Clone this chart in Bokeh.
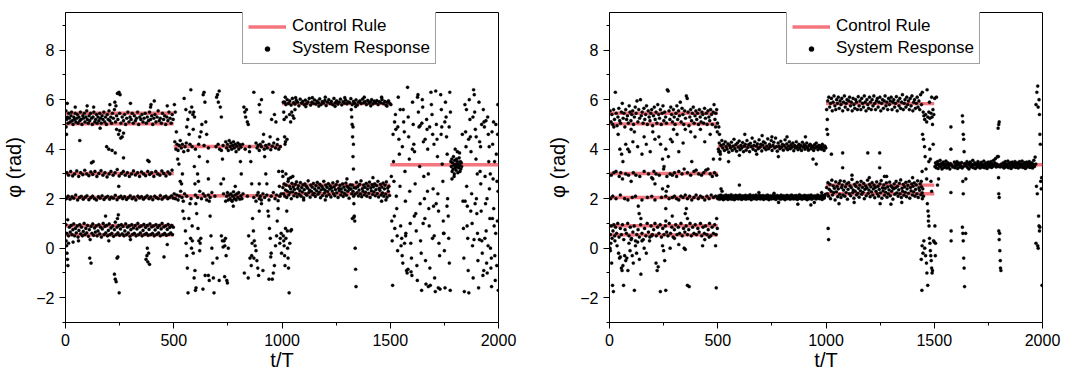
from bokeh.plotting import figure
from bokeh.layouts import row
from bokeh.models import FixedTicker, Legend, LegendItem, Range1d, ColumnDataSource
from bokeh.embed import file_html
from bokeh.resources import INLINE

# ---------------- data ----------------
time_ticks = [0, 500, 1000, 1500, 2000]
time_minor = [250, 750, 1250, 1750]
phi_ticks = [-2, 0, 2, 4, 6, 8]
phi_minor = [-3, -1, 1, 3, 5, 7, 9]

# control rule segments (start t, end t, phi)
left_rule_t0 = [0, 0, 0, 0, 0, 0, 500, 500, 1000, 1000, 1000, 1500]
left_rule_t1 = [500, 500, 500, 500, 500, 500, 1000, 1000, 1500, 1500, 1500, 2000]
left_rule_phi = [5.45, 5.02, 3.02, 2.05, 0.91, 0.54, 4.11, 2.12, 5.84, 2.55, 2.2, 3.37]
right_rule_t0 = [0, 0, 0, 0, 0, 0, 500, 500, 1000, 1000, 1000, 1500]
right_rule_t1 = [500, 500, 500, 500, 500, 500, 1000, 1000, 1500, 1500, 1500, 2000]
right_rule_phi = [5.45, 5.02, 3.02, 2.05, 0.91, 0.54, 4.11, 2.05, 5.84, 2.55, 2.2, 3.37]

# ---- left panel: system response (t, phi) ----
left_0_500 = [(2,5.55),(5,5.2),(9,5.3),(12,5.05),(15,5.45),(18,5.25),(22,5.1),(25,5.35),(28,5.5),(31,5.15),(35,5.0),(38,5.3),(41,5.2),(45,5.45),(48,5.1),(52,5.25),(55,5.4),(58,5.05),(62,5.3),(66,5.15),(69,5.5),(72,5.2),(76,5.0),(80,5.35),(83,5.25),(87,5.45),(90,5.1),(94,5.3),(98,5.55),(101,5.2),(105,5.05),(109,5.35),(112,5.15),(116,5.45),(120,5.25),(124,5.0),(127,5.3),(131,5.5),(135,5.1),(139,5.2),(143,5.4),(146,5.05),(150,5.3),(154,5.15),(158,5.45),(162,5.25),(165,5.05),(169,5.35),(173,5.2),(177,5.5),(181,5.1),(185,5.3),(189,5.0),(193,5.4),(197,5.2),(201,5.55),(205,5.15),(209,5.3),(213,5.05),(217,5.45),(221,5.25),(226,5.6),(231,5.1),(236,5.35),(242,5.2),(250,5.45),(256,5.05),(262,5.3),(268,5.15),(273,5.4),(278,5.0),(283,5.25),(288,5.5),(293,5.1),(298,5.3),(303,5.2),(308,5.45),(313,5.05),(318,5.35),(323,5.15),(328,5.25),(333,5.5),(338,5.0),(343,5.3),(348,5.2),(353,5.4),(358,5.1),(363,5.25),(368,5.45),(373,5.05),(378,5.3),(383,5.15),(388,5.5),(393,5.2),(398,5.35),(403,5.0),(408,5.25),(413,5.4),(418,5.1),(423,5.3),(428,5.55),(433,5.15),(438,5.25),(443,5.05),(448,5.45),(453,5.2),(458,5.35),(463,5.0),(468,5.3),(473,5.15),(478,5.5),(483,5.25),(488,5.05),(493,5.4),(497,5.2),
(100,5.75),(130,5.7),(205,5.8),(228,5.9),(240,6.25),(247,6.3),(252,6.2),(233,5.75),(300,5.85),(393,5.7),(410,5.95),(395,5.8),(470,5.75),(45,5.7),(8,5.85),(160,4.85),(245,4.6),(250,4.75),(255,4.45),(262,4.5),(236,4.8),(268,4.65),(66,4.35),(190,4.1),(200,4.0),(215,3.95),(230,3.85),(268,3.65),(380,3.55),(386,3.5),(120,3.45),(128,3.5),(246,2.5),(3,4.9),(5,4.6),
(6,3.05),(14,2.95),(24,3.1),(33,2.92),(42,3.0),(52,3.12),(61,2.9),(70,3.05),(80,2.97),(89,3.15),(98,3.0),(108,2.93),(117,3.08),(126,2.98),(136,3.1),(145,2.9),(154,3.02),(164,3.13),(173,2.95),(182,3.05),(192,2.88),(201,3.0),(210,3.1),(220,2.95),(229,3.05),(239,3.18),(248,2.92),(258,3.02),(267,3.1),(276,2.95),(286,3.05),(295,2.9),(305,3.0),(314,3.12),(323,2.96),(333,3.05),(342,2.9),(351,3.08),(361,3.0),(370,2.93),(380,3.1),(389,2.98),(398,3.05),(408,2.9),(417,3.1),(426,3.0),(436,2.95),(445,3.12),(454,3.02),(464,2.92),(473,3.08),(482,3.0),(492,3.15),
(4,2.0),(12,2.1),(21,1.98),(30,2.08),(38,2.02),(47,2.15),(56,1.95),(65,2.05),(73,2.1),(82,1.98),(91,2.06),(99,2.12),(108,1.96),(117,2.04),(125,2.1),(134,2.0),(143,1.95),(152,2.08),(160,2.02),(169,2.12),(178,1.97),(186,2.05),(195,2.1),(204,1.98),(212,2.06),(221,2.02),(230,2.14),(238,1.96),(247,2.05),(256,2.1),(264,2.0),(273,2.08),(282,1.97),(290,2.04),(299,2.12),(308,2.0),(316,2.06),(325,1.95),(334,2.1),(342,2.03),(351,2.08),(360,1.98),(368,2.05),(377,2.12),(386,2.0),(394,2.07),(403,1.96),(412,2.1),(420,2.04),(429,2.0),(438,2.13),(446,1.98),(455,2.06),(464,2.1),(472,2.0),(481,2.05),(490,2.12),(498,2.02),
(2,0.95),(6,0.6),(10,1.15),(14,0.5),(18,0.85),(22,0.65),(26,0.92),(30,0.55),(34,0.75),(38,0.98),(42,0.5),(46,0.8),(50,0.62),(54,0.9),(58,0.45),(62,0.72),(66,0.95),(70,0.58),(74,0.85),(78,0.5),(82,0.68),(86,1.0),(90,0.55),(94,0.8),(98,0.62),(102,0.92),(106,0.48),(110,0.75),(114,0.35),(118,0.88),(122,0.6),(126,0.98),(130,0.52),(134,0.82),(138,0.65),(142,0.9),(146,0.5),(150,0.7),(154,0.95),(158,0.58),(162,0.85),(166,0.45),(170,0.78),(174,1.0),(178,0.55),(182,0.88),(186,0.62),(190,0.92),(194,0.5),(198,0.72),(202,0.98),(206,0.55),(210,0.82),(214,0.6),(218,0.9),(222,0.48),(226,0.75),(230,1.05),(234,0.55),(238,0.85),(242,0.62),(246,0.92),(250,0.52),(254,0.78),(258,0.95),(262,0.58),(266,0.88),(270,0.5),(274,0.7),(278,0.98),(282,0.55),(286,0.85),(290,0.62),(294,0.9),(298,0.48),(302,0.75),(306,0.95),(310,0.56),(314,0.82),(318,0.6),(322,0.92),(326,0.5),(330,0.78),(334,1.0),(338,0.55),(342,0.86),(346,0.62),(350,0.9),(354,0.5),(358,0.72),(362,0.96),(366,0.56),(370,0.84),(374,0.6),(378,0.92),(382,0.52),(386,0.76),(390,0.98),(394,0.55),(398,0.86),(402,0.6),(406,0.9),(410,0.5),(414,0.74),(418,0.95),(422,0.56),(426,0.84),(430,0.62),(434,0.92),(438,0.5),(442,0.78),(446,1.0),(450,0.55),(454,0.86),(458,0.6),(462,0.9),(466,0.52),(470,0.76),(474,0.96),(478,0.56),(482,0.84),(486,0.62),(490,0.92),(494,0.55),(498,0.85),
(3,0.3),(5,0.1),(7,-0.2),(9,-0.45),(11,-0.7),(14,0.2),(112,-0.4),(118,-0.6),(226,-1.05),(230,-1.25),(234,-1.35),(238,-0.4),(242,-0.35),(248,-1.8),(240,1.2),(244,1.35),(372,-0.45),(376,-0.3),(380,-0.55),(384,-0.2),(388,-0.65),(378,0.0),(455,-0.35),(470,0.15),(35,0.25),(60,0.3),(200,0.3),(300,0.35),(185,1.3)]

left_500_1000 = [(505,4.3),(510,4.0),(515,4.2),(520,3.95),(525,4.15),(530,4.35),(535,4.05),(540,4.2),(546,3.9),(552,4.1),(558,4.25),(566,3.95),(575,4.2),(585,4.1),(600,4.0),(615,4.2),(640,4.15),(660,4.05),(695,4.1),(705,4.2),(712,4.0),(720,3.95),(728,4.15),(740,4.3),(744,4.05),(748,4.2),(752,3.95),(756,4.35),(760,4.1),(764,4.25),(768,4.0),(772,4.15),(776,4.3),(780,4.05),(784,4.2),(788,3.9),(792,4.12),(796,4.25),(800,4.0),(805,4.18),(810,4.08),(818,4.2),(830,4.0),(850,4.1),(880,4.25),(885,4.05),(890,4.15),(895,3.95),(900,4.2),(905,4.1),(912,4.3),(918,4.0),(925,4.15),(932,4.05),(940,4.2),(948,3.98),(955,4.12),(962,4.25),(970,4.05),(978,4.18),(985,4.0),(992,4.1),
(502,2.2),(508,2.0),(514,2.15),(520,1.95),(526,2.1),(532,2.3),(538,2.05),(544,1.9),(550,2.2),(560,2.1),(580,2.0),(600,2.15),(610,2.05),(620,2.3),(628,2.0),(636,2.2),(644,2.1),(652,1.95),(660,2.15),(668,2.05),(676,2.25),(690,2.1),(730,2.2),(740,1.9),(744,2.1),(748,2.25),(752,1.95),(756,2.15),(760,2.0),(764,2.2),(768,1.92),(772,2.1),(776,2.28),(780,2.0),(784,2.15),(788,1.95),(792,2.2),(796,2.05),(800,2.25),(805,1.98),(810,2.12),(815,2.0),(820,2.2),(840,2.1),(870,2.05),(880,1.9),(885,2.15),(890,2.25),(895,2.0),(900,2.1),(905,1.95),(912,2.2),(920,2.05),(930,2.15),(940,1.95),(950,2.1),(960,2.25),(968,2.0),(975,2.15),(982,1.92),(990,2.1),(996,2.2),
(503,5.8),(507,5.5),(512,4.7),(518,3.6),(524,3.4),(530,2.7),(536,2.6),(542,1.5),(548,1.2),(554,0.7),(557,0.2),(560,-0.3),(563,-0.8),(566,-1.8),(548,6.05),(556,5.6),(560,4.9),(565,5.2),(571,4.6),(575,5.5),(579,6.4),(583,5.7),(588,5.4),(592,5.5),(596,5.3),(590,4.8),(595,3.3),(598,2.6),(602,1.8),(606,1.4),(585,0.9),(578,0.4),(582,0.0),(586,0.3),(590,-0.2),(594,-1.2),(598,-0.9),(603,-1.6),(610,3.0),(614,2.7),(618,3.7),(620,4.5),(626,4.7),(630,5.0),(636,6.2),(640,6.3),(644,5.9),(648,5.1),(652,4.6),(656,3.5),(660,2.8),(664,1.9),(668,1.3),(672,0.5),(676,0.0),(680,-0.6),(683,-1.2),(686,-1.8),(660,-1.1),(664,-1.3),(698,6.1),(702,6.2),(706,5.9),(710,6.35),(715,5.7),(720,5.3),(725,3.6),(730,2.8),(733,0.3),(736,0.1),(739,0.4),(742,-0.3),(745,-1.3),(748,-1.4),(752,0.0),(718,2.6),(824,5.7),(828,5.5),(832,5.3),(836,5.6),(840,5.1),(844,5.0),(850,3.9),(856,3.5),(860,2.6),(864,1.2),(868,0.7),(872,0.3),(876,0.1),(880,-0.1),(884,-0.5),(888,-0.8),(892,-1.1),(846,0.5),(852,-0.4),(858,-0.7),(862,0.2),(870,6.3),(895,5.8),(900,5.5),(905,6.0),(915,4.6),(920,3.7),(925,3.0),(930,2.6),(935,1.5),(938,1.3),(942,0.8),(946,0.4),(950,-0.2),(955,-1.25),(960,-1.0),(965,-0.7),(970,0.1),(975,0.5),(978,1.1),(982,1.6),(958,6.3),(952,5.2),(945,4.5),(965,5.4),(972,5.1),(980,4.4),(985,3.1),(988,2.5),(992,0.4),(996,0.6),(990,0.2),(998,-0.2),(600,-1.7),(635,-1.65),(645,-1.1),(700,-0.4),(710,-1.3),(735,-1.15),(770,1.9),(812,3.0),(826,-1.0),(844,-1.2),(860,-0.3),(870,-0.4),(905,1.8),(895,1.5),(912,-0.9),(940,-1.25),(948,-0.35),(775,1.7),(570,1.2),(575,1.8),(612,0.8),(616,0.3),(622,0.2),(620,-0.1),(625,0.4),(720,0.5),(725,0.3),(728,0.05),(784,2.5),(808,3.5),(895,2.6),(540,3.0)]

left_1000_1500 = [(1012,5.9),(1018,5.8),(1024,6.0),(1030,5.85),(1036,5.95),(1042,5.78),(1048,6.05),(1054,5.88),(1060,5.82),(1066,5.97),(1072,5.9),(1078,5.75),(1084,6.02),(1090,5.86),(1096,5.93),(1102,5.8),(1108,5.98),(1114,5.84),(1120,5.91),(1126,6.05),(1132,5.78),(1138,5.9),(1144,5.85),(1150,5.99),(1156,5.82),(1162,5.94),(1168,5.88),(1174,6.03),(1180,5.8),(1186,5.92),(1192,5.86),(1198,5.97),(1204,5.76),(1210,5.9),(1216,6.0),(1222,5.84),(1228,5.93),(1234,5.8),(1240,6.05),(1246,5.87),(1252,5.95),(1258,5.82),(1264,5.9),(1270,6.02),(1276,5.79),(1282,5.92),(1288,5.86),(1294,5.98),(1300,5.83),(1306,5.91),(1312,5.88),(1318,6.04),(1324,5.8),(1330,5.93),(1336,5.85),(1342,5.99),(1348,5.78),(1354,5.9),(1360,5.95),(1366,5.84),(1372,6.02),(1378,5.88),(1384,5.92),(1390,5.8),(1396,5.97),(1402,5.86),(1408,5.91),(1414,6.0),(1420,5.83),(1426,5.94),(1432,5.87),(1438,5.96),(1444,5.8),(1450,5.92),(1456,5.88),(1462,6.01),(1468,5.84),(1474,5.93),(1480,5.78),(1486,5.9),(1492,5.95),(1498,5.85),(1015,6.1),(1063,6.08),(1110,5.72),(1170,5.74),(1245,5.73),(1290,6.08),(1340,5.72),(1410,5.75),(1460,6.1),(1485,5.74),(1140,6.08),(1200,6.1),(1380,6.1),
(1004,2.45),(1007,2.2),(1010,2.6),(1013,2.1),(1016,2.35),(1019,2.55),(1022,2.05),(1025,2.3),(1028,2.7),(1031,2.15),(1034,2.5),(1037,2.25),(1040,2.4),(1043,2.0),(1046,2.62),(1049,2.28),(1052,2.48),(1055,2.12),(1058,2.38),(1061,2.58),(1064,2.22),(1067,2.68),(1070,2.08),(1073,2.42),(1076,2.52),(1079,2.18),(1082,2.33),(1085,2.65),(1088,2.1),(1091,2.45),(1094,2.27),(1097,2.56),(1100,2.03),(1103,2.37),(1106,2.6),(1109,2.2),(1112,2.5),(1115,2.14),(1118,2.43),(1121,2.72),(1124,2.25),(1127,2.35),(1130,2.06),(1133,2.55),(1136,2.3),(1139,2.47),(1142,2.16),(1145,2.62),(1148,2.22),(1151,2.4),(1154,2.09),(1157,2.53),(1160,2.32),(1163,2.66),(1166,2.18),(1169,2.44),(1172,2.26),(1175,2.58),(1178,2.04),(1181,2.36),(1184,2.5),(1187,2.13),(1190,2.41),(1193,2.7),(1196,2.23),(1199,2.34),(1202,2.55),(1205,2.1),(1208,2.46),(1211,2.29),(1214,2.61),(1217,2.17),(1220,2.39),(1223,2.52),(1226,2.07),(1229,2.44),(1232,2.31),(1235,2.64),(1238,2.2),(1241,2.48),(1244,2.12),(1247,2.37),(1250,2.57),(1253,2.24),(1256,2.69),(1259,2.05),(1262,2.42),(1265,2.33),(1268,2.54),(1271,2.15),(1274,2.4),(1277,2.27),(1280,2.6),(1283,2.09),(1286,2.47),(1289,2.21),(1292,2.36),(1295,2.63),(1298,2.14),(1301,2.5),(1304,2.3),(1307,2.45),(1310,2.02),(1313,2.38),(1316,2.56),(1319,2.4),(1322,2.2),(1325,2.55),(1328,2.3),(1331,2.1),(1334,2.45),(1338,2.19),(1341,2.43),(1344,2.66),(1347,2.25),(1350,2.49),(1353,2.11),(1356,2.35),(1359,2.58),(1362,2.2),(1365,2.72),(1368,2.08),(1371,2.41),(1374,2.3),(1377,2.55),(1380,2.16),(1383,2.46),(1386,2.26),(1389,2.62),(1392,2.1),(1395,2.39),(1398,2.52),(1401,2.22),(1404,2.67),(1407,2.05),(1410,2.44),(1413,2.32),(1416,2.57),(1419,2.17),(1422,2.48),(1425,2.28),(1428,2.6),(1431,2.12),(1434,2.37),(1437,2.53),(1440,2.21),(1443,2.7),(1446,2.07),(1449,2.42),(1452,2.34),(1455,2.58),(1458,2.15),(1461,2.47),(1464,2.24),(1467,2.63),(1470,2.1),(1473,2.4),(1476,2.55),(1479,2.19),(1482,2.68),(1485,2.06),(1488,2.43),(1491,2.3),(1494,2.5),(1497,2.13),
(1040,2.85),(1050,2.9),(1030,2.8),(1100,1.95),(1200,1.95),(1300,2.8),(1420,2.85),(1480,1.95),(1460,1.9),
(1002,3.1),(1004,2.9),(1006,5.9),(1008,5.5),(1010,5.2),(1012,4.5),(1014,4.2),(1016,4.3),(1018,3.0),(1020,5.3),(1023,4.4),(1006,0.5),(1008,0.3),(1010,0.1),(1012,-0.3),(1014,-0.7),(1016,0.8),(1018,0.4),(1022,1.5),(1025,0.7),(1028,-0.4),(1030,-0.8),(1033,-1.8),(1036,0.2),(1040,0.7),(1044,0.75),(1026,0.0),(1035,5.4),(1040,5.1),(1045,5.5),(1050,5.35),(1055,5.25),(1060,5.6),(1320,5.6),(1322,5.3),(1324,5.0),(1326,4.5),(1328,3.7),(1330,3.2),(1332,1.8),(1334,1.3),(1336,1.1),(1338,0.0),(1340,-0.85),(1342,-1.55),(1325,1.2),(1332,1.25),(1328,4.9),(1330,4.2)]

left_1500_2000 = [(1503,5.8),(1505,2.9),(1507,1.1),(1509,0.3),(1511,-1.5),(1513,4.6),(1515,3.5),(1517,2.7),(1519,1.3),(1521,0.8),(1524,5.4),(1526,4.8),(1528,2.1),(1530,1.6),(1532,0.5),(1534,-0.1),(1537,6.1),(1540,4.4),(1542,3.8),(1545,2.5),(1548,0.9),(1550,0.1),(1553,0.4),(1555,-0.3),(1558,-0.6),(1560,5.6),(1562,5.1),(1565,4.7),(1568,3.1),(1570,1.9),(1572,0.6),(1575,-0.9),(1578,-1.0),(1580,6.5),(1583,5.3),(1585,4.5),(1588,3.6),(1590,2.3),(1592,1.0),(1595,0.2),(1598,-0.4),(1600,-1.1),(1603,5.9),(1606,5.0),(1609,4.2),(1612,3.9),(1615,2.6),(1618,1.4),(1620,0.7),(1623,-0.7),(1625,-1.3),(1628,6.2),(1630,5.5),(1633,4.9),(1636,3.3),(1638,1.8),(1640,0.3),(1643,-0.2),(1645,-1.7),(1648,6.0),(1650,5.7),(1653,4.3),(1655,2.9),(1658,2.0),(1660,1.2),(1663,-0.5),(1665,-1.45),(1668,5.2),(1670,4.8),(1673,4.0),(1676,3.0),(1678,1.6),(1680,0.9),(1683,-0.8),(1685,-1.5),(1688,6.3),(1690,5.8),(1693,5.4),(1696,4.6),(1698,2.4),(1700,1.7),(1703,0.5),(1705,-1.2),(1708,-1.75),(1710,6.35),(1713,5.0),(1716,4.4),(1718,3.7),(1720,2.2),(1723,1.5),(1725,0.2),(1728,-0.3),(1730,-1.65),(1733,6.2),(1736,5.6),(1738,4.9),(1740,3.4),(1743,2.7),(1745,1.1),(1748,0.6),(1750,-0.1),(1753,-1.6),(1755,5.9),(1758,5.3),(1760,4.5),(1763,3.8),(1765,2.0),(1768,1.3),(1770,0.4),(1773,-0.6),(1775,6.3),(1778,5.5),
(1780,3.5),(1782,3.3),(1784,3.6),(1786,3.1),(1788,3.45),(1790,3.2),(1792,3.7),(1794,3.35),(1796,3.0),(1798,3.55),(1800,3.25),(1802,3.4),(1804,3.15),(1806,3.6),(1808,3.3),(1810,3.5),(1812,3.05),(1814,3.4),(1816,3.25),(1818,3.65),(1820,3.35),(1822,3.1),(1824,3.5),(1826,3.2),(1828,3.45),(1830,3.3),(1785,2.8),(1795,2.9),(1810,3.9),(1820,3.85),(1800,4.0),
(1833,4.6),(1836,1.9),(1838,0.8),(1840,-0.4),(1842,-1.75),(1845,5.8),(1848,4.7),(1850,4.1),(1853,2.5),(1856,1.7),(1858,0.4),(1860,-0.9),(1863,-1.8),(1865,6.0),(1868,5.2),(1870,4.5),(1873,3.9),(1876,2.2),(1878,1.0),(1880,0.1),(1883,-1.2),(1885,6.4),(1888,6.2),(1890,5.5),(1893,4.8),(1896,3.6),(1898,2.0),(1900,1.4),(1903,0.6),(1905,-0.5),(1908,-1.6),(1910,5.9),(1913,4.3),(1915,3.1),(1918,2.6),(1920,1.5),(1923,0.3),(1925,-0.2),(1928,-1.1),(1930,5.6),(1933,5.1),(1935,4.9),(1938,2.9),(1940,1.8),(1943,0.7),(1945,-0.6),(1948,-1.0),(1950,5.3),(1953,4.6),(1955,3.5),(1958,2.4),(1960,1.2),(1963,0.0),(1965,-0.8),(1968,-1.55),(1970,4.7),(1973,4.2),(1975,2.8),(1978,1.6),(1980,0.9),(1983,-0.3),(1985,-1.3),(1988,5.0),(1990,3.8),(1993,2.7),(1995,1.1),(1997,5.8),(1999,-1.7),
(1520,5.1),(1535,4.9),(1546,5.6),(1556,4.1),(1566,0.2),(1571,0.5),(1582,-0.85),(1596,-0.95),(1602,4.0),(1611,1.3),(1626,6.1),(1638,4.95),(1646,5.05),(1652,1.0),(1661,4.4),(1672,2.3),(1676,-1.55),(1682,4.9),(1695,0.4),(1702,4.2),(1712,1.8),(1722,-1.6),(1735,4.6),(1746,0.6),(1752,5.1),(1762,1.7),(1772,4.9),(1777,-1.7),(1846,1.9),(1852,5.6),(1855,0.9),(1862,4.4),(1872,1.5),(1882,5.3),(1887,0.35),(1892,1.8),(1897,4.5),(1902,3.0),(1912,0.35),(1917,4.1),(1922,5.0),(1932,-0.9),(1937,0.4),(1942,5.15),(1947,2.0),(1952,0.1),(1957,4.1),(1962,3.0),(1967,-0.4),(1972,1.2),(1977,5.1),(1982,3.5),(1987,0.6),(1992,-0.7),(1996,4.6),(1998,2.3)]

# ---- right panel: system response (t, phi) ----
right_0_500 = [(3,5.55),(7,5.1),(11,5.4),(15,5.0),(19,5.6),(23,5.2),(27,6.3),(31,5.45),(35,4.95),(39,5.3),(43,5.65),(47,5.15),(51,5.05),(55,5.5),(59,5.85),(63,5.25),(67,5.45),(71,4.9),(75,5.6),(79,5.2),(83,5.35),(87,5.05),(91,5.75),(95,5.5),(99,5.15),(103,5.4),(107,5.55),(111,5.0),(115,5.3),(119,5.7),(123,5.45),(127,5.95),(131,5.1),(135,5.6),(139,5.25),(143,6.0),(147,5.35),(151,5.5),(155,5.05),(159,5.65),(163,5.2),(167,5.4),(171,5.75),(175,5.0),(179,5.55),(183,5.3),(187,5.15),(191,5.45),(195,5.6),(199,4.95),(203,5.35),(207,5.7),(211,5.2),(215,5.5),(219,5.05),(223,5.8),(227,5.4),(231,5.25),(235,5.6),(239,5.0),(243,5.45),(247,5.75),(251,5.15),(255,5.5),(259,5.3),(263,5.05),(267,6.4),(271,6.35),(275,5.55),(279,5.2),(283,5.7),(287,5.4),(291,5.1),(295,5.6),(299,5.3),(303,5.0),(307,5.45),(311,5.75),(315,5.2),(319,5.55),(323,5.35),(327,5.9),(331,5.1),(335,5.65),(339,5.4),(343,5.0),(347,5.55),(351,5.25),(355,6.15),(359,6.05),(363,5.5),(367,4.95),(371,5.3),(375,5.6),(379,5.15),(383,5.45),(387,5.7),(391,5.05),(395,5.35),(399,5.55),(403,5.2),(407,5.45),(411,5.0),(415,5.6),(419,5.3),(423,5.1),(427,5.5),(431,5.4),(435,5.05),(439,5.65),(443,5.25),(447,5.45),(451,5.0),(455,5.55),(459,5.3),(463,5.15),(467,5.6),(471,5.4),(475,5.0),(479,5.5),(483,5.8),(487,5.2),(491,5.45),(495,5.6),(499,5.05),
(20,4.9),(40,4.6),(48,4.0),(56,3.8),(62,3.5),(75,4.2),(85,4.0),(92,3.9),(100,4.8),(108,4.3),(115,4.7),(130,4.1),(150,3.8),(160,4.5),(170,4.2),(188,3.9),(200,4.7),(210,4.4),(228,4.5),(236,4.2),(245,3.6),(252,3.3),(260,4.0),(272,3.7),(282,4.4),(290,4.3),(296,4.8),(312,4.6),(320,3.9),(340,4.25),(350,4.8),(375,4.7),(380,3.5),(395,4.5),(420,4.8),(440,4.3),(465,4.6),(480,3.6),(490,4.9),(498,4.7),(270,2.5),(262,2.3),(210,2.6),(200,2.8),(245,2.4),(260,1.6),(133,1.7),(137,1.4),(145,1.2),(350,1.4),(355,1.6),(360,1.2),(260,1.1),(290,1.3),
(8,2.95),(20,3.05),(30,3.1),(45,2.9),(52,3.05),(60,2.8),(75,3.0),(88,2.95),(100,2.7),(110,3.05),(140,2.9),(180,3.0),(195,2.85),(205,3.1),(215,3.0),(230,2.95),(250,3.2),(265,2.9),(280,3.0),(300,3.05),(310,2.9),(320,3.1),(335,3.0),(345,3.2),(360,3.05),(375,2.95),(390,3.1),(400,3.15),(412,3.0),(425,2.95),(435,3.05),(445,3.15),(455,3.2),(465,3.0),(475,2.9),(485,3.05),(495,2.95),(122,2.95),(160,3.1),(290,2.95),
(5,2.0),(15,2.1),(30,2.0),(50,2.15),(70,2.0),(85,1.95),(105,2.05),(120,2.1),(150,1.95),(175,2.05),(195,2.1),(210,1.95),(240,2.05),(260,2.1),(275,2.0),(290,2.05),(300,2.1),(310,2.0),(320,1.95),(330,2.1),(340,2.05),(350,2.15),(360,2.0),(370,2.1),(380,1.95),(390,2.05),(400,2.15),(410,2.0),(420,2.1),(430,2.05),(440,1.95),(450,2.1),(460,2.0),(470,2.15),(480,2.05),(490,2.1),(500,2.0),
(4,0.55),(8,0.9),(12,0.4),(16,0.7),(20,0.95),(24,0.5),(28,0.85),(33,0.6),(38,1.0),(44,0.45),(50,0.8),(55,0.55),(60,0.95),(66,0.35),(72,0.75),(78,0.6),(84,1.0),(90,0.5),(96,0.85),(102,0.4),(108,0.65),(114,0.9),(120,0.3),(126,0.55),(132,0.75),(138,0.45),(144,0.95),(150,0.6),(156,0.35),(162,0.8),(168,0.5),(174,1.0),(180,0.65),(186,0.45),(192,0.9),(198,0.55),(204,0.75),(210,1.0),(216,0.5),(222,0.85),(228,0.6),(234,0.95),(240,0.45),(246,0.8),(252,0.55),(258,0.9),(264,0.65),(270,0.5),(276,1.0),(282,0.6),(288,0.85),(294,0.45),(300,0.75),(306,0.95),(312,0.55),(318,0.85),(324,0.6),(330,1.0),(336,0.5),(342,0.8),(348,0.65),(354,0.9),(360,0.55),(366,0.75),(372,1.0),(378,0.5),(384,0.85),(390,0.6),(396,0.95),(402,0.55),(408,0.8),(414,0.65),(420,1.0),(426,0.5),(432,0.85),(438,0.6),(444,0.9),(450,0.55),(456,0.75),(462,1.0),(468,0.5),(474,0.85),(480,0.6),(486,0.95),(492,0.55),(498,0.8),
(2,0.0),(4,-0.1),(6,0.2),(10,-0.6),(14,-1.5),(18,-1.75),(25,0.3),(35,0.1),(42,-0.2),(46,-0.4),(50,-0.35),(55,-0.8),(58,-0.9),(62,-0.7),(65,-1.5),(70,-0.3),(75,-0.5),(80,-0.4),(85,-0.9),(90,0.2),(95,-0.1),(100,0.35),(105,-0.3),(110,-0.6),(115,-1.7),(120,0.1),(125,-0.2),(130,0.25),(138,-0.45),(145,-1.05),(150,0.3),(160,0.0),(170,-0.2),(185,0.3),(195,0.5),(215,-0.6),(220,-0.9),(225,-0.75),(235,-1.75),(245,0.1),(250,-0.1),(255,-0.5),(260,-1.7),(280,0.0),(300,0.4),(320,0.15),(345,0.0),(350,-0.05),(360,-1.5),(368,-1.55),(430,0.1),(440,0.35),(460,0.45),(490,0.1),(493,-1.6),(495,1.2)]

right_500_1000 = [(503,4.0),(507,4.25),(511,3.9),(515,4.15),(519,4.35),(523,4.05),(527,4.2),(531,3.95),(535,4.3),(539,4.1),(543,4.0),(547,4.22),(551,3.88),(555,4.15),(559,4.05),(563,4.28),(567,3.95),(571,4.12),(575,4.4),(579,4.02),(583,4.18),(587,3.92),(591,4.25),(595,4.08),(599,4.33),(603,3.98),(607,4.15),(611,4.05),(615,4.27),(619,3.9),(623,4.12),(627,4.2),(631,3.96),(635,4.35),(639,4.07),(643,4.18),(647,3.9),(651,4.24),(655,4.1),(659,4.45),(663,4.0),(667,4.15),(671,4.3),(675,3.94),(679,4.12),(683,4.22),(687,4.02),(691,4.38),(695,4.08),(699,4.2),(703,3.93),(707,4.16),(711,4.3),(715,4.05),(719,4.25),(723,3.98),(727,4.12),(731,4.42),(735,4.02),(739,4.2),(743,4.1),(747,4.35),(751,3.95),(755,4.15),(759,4.28),(763,4.05),(767,4.45),(771,4.1),(775,3.92),(779,4.25),(783,4.12),(787,4.02),(791,4.32),(795,4.08),(799,4.2),(803,3.96),(807,4.15),(811,4.38),(815,4.05),(819,4.22),(823,3.98),(827,4.12),(831,4.3),(835,4.02),(839,4.18),(843,4.08),(847,4.25),(851,3.94),(855,4.15),(859,4.05),(863,4.3),(867,4.1),(871,3.98),(875,4.2),(879,4.05),(883,4.15),(887,3.95),(891,4.28),(895,4.08),(899,4.18),(903,4.0),(907,4.12),(911,4.25),(915,4.05),(919,3.96),(923,4.15),(927,4.2),(931,4.02),(935,4.12),(939,4.08),(943,3.95),(947,4.18),(951,4.05),(955,4.25),(959,4.1),(963,3.98),(967,4.15),(971,4.05),(975,4.12),(979,4.0),(983,4.2),(987,4.08),(991,3.95),(995,4.12),(999,4.05),(625,4.6),(705,4.55),(750,4.5),(820,4.5),(905,4.5),(940,3.6),(955,3.4),(600,3.75),(680,3.8),(780,3.7),
(502,2.05),(505,2.12),(508,1.98),(511,2.08),(514,2.15),(517,2.0),(520,2.1),(523,2.04),(526,1.96),(529,2.12),(532,2.06),(535,2.0),(538,2.15),(541,2.02),(544,2.09),(547,1.97),(550,2.13),(553,2.05),(556,2.0),(559,2.1),(562,2.16),(565,1.98),(568,2.07),(571,2.03),(574,2.12),(577,1.96),(580,2.08),(583,2.14),(586,2.01),(589,2.06),(592,2.11),(595,1.99),(598,2.05),(601,2.15),(604,2.02),(607,2.08),(610,1.97),(613,2.12),(616,2.04),(619,2.1),(622,2.0),(625,2.06),(628,2.14),(631,1.98),(634,2.09),(637,2.03),(640,2.12),(643,2.0),(646,2.07),(649,2.16),(652,2.02),(655,1.96),(658,2.1),(661,2.05),(664,2.13),(667,2.0),(670,2.08),(673,2.03),(676,2.15),(679,1.98),(682,2.06),(685,2.11),(688,2.01),(691,2.07),(694,2.14),(697,1.99),(700,2.05),(703,2.1),(706,2.02),(709,2.13),(712,1.97),(715,2.08),(718,2.04),(721,2.12),(724,2.0),(727,2.06),(730,2.15),(733,2.02),(736,1.96),(739,2.09),(742,2.05),(745,2.12),(748,1.99),(751,2.07),(754,2.03),(757,2.14),(760,2.0),(763,2.08),(766,2.11),(769,1.97),(772,2.06),(775,2.13),(778,2.02),(781,1.85),(784,2.1),(787,2.05),(790,1.98),(793,2.15),(796,2.03),(799,2.09),(802,2.0),(805,2.12),(808,2.06),(811,1.96),(814,2.1),(817,2.04),(820,2.14),(823,2.0),(826,2.08),(829,2.02),(832,2.12),(835,1.98),(838,2.06),(841,2.15),(844,2.03),(847,2.09),(850,1.99),(853,2.11),(856,2.05),(859,2.0),(862,2.13),(865,2.07),(868,1.97),(871,2.1),(874,2.04),(877,2.16),(880,2.01),(883,2.08),(886,2.12),(889,1.98),(892,2.06),(895,2.1),(898,2.02),(901,2.14),(904,2.0),(907,2.07),(910,2.11),(913,1.96),(916,2.05),(919,2.13),(922,2.0),(925,2.08),(928,2.03),(931,2.15),(934,1.98),(937,2.06),(940,2.1),(943,2.02),(946,1.85),(949,2.12),(952,2.05),(955,1.99),(958,2.09),(961,2.15),(964,2.03),(967,2.07),(970,2.0),(973,2.12),(976,2.05),(979,2.1),(982,1.97),(985,2.14),(988,2.06),(991,2.02),(994,2.1),(997,2.18),(690,2.25),(760,2.22),(870,1.78),(930,1.75),(980,2.25),
(505,4.9),(508,4.6),(512,3.8),(515,2.4),(520,2.3),(550,3.5),(600,2.55),(505,3.9),(510,3.6)]

right_1000_1500 = [(1003,5.6),(1008,5.95),(1013,6.1),(1017,5.7),(1021,5.85),(1025,6.05),(1029,5.55),(1033,5.9),(1037,6.15),(1041,5.75),(1045,5.6),(1049,6.0),(1053,5.85),(1057,6.1),(1061,5.65),(1065,5.95),(1069,5.8),(1073,6.05),(1077,5.55),(1081,5.9),(1085,6.15),(1089,5.7),(1093,5.85),(1097,6.0),(1101,5.6),(1105,5.95),(1109,6.1),(1113,5.75),(1117,5.9),(1121,5.55),(1125,6.05),(1129,5.8),(1133,5.65),(1137,6.0),(1141,5.9),(1145,5.6),(1149,6.12),(1153,5.75),(1157,5.95),(1161,5.6),(1165,6.05),(1169,5.85),(1173,5.7),(1177,6.15),(1181,5.9),(1185,5.55),(1189,6.0),(1193,5.8),(1197,5.65),(1201,6.1),(1205,5.9),(1209,5.6),(1213,6.0),(1217,5.75),(1221,6.15),(1225,5.85),(1229,5.6),(1233,5.95),(1237,6.05),(1241,5.7),(1245,5.9),(1249,6.1),(1253,5.55),(1257,5.85),(1261,6.0),(1265,5.65),(1269,5.95),(1273,6.15),(1277,5.75),(1281,5.9),(1285,5.6),(1289,6.05),(1293,5.8),(1297,5.95),(1301,6.1),(1305,5.6),(1309,5.9),(1313,6.0),(1317,5.7),(1321,5.85),(1325,6.12),(1329,5.55),(1333,5.95),(1337,5.75),(1341,6.05),(1345,5.65),(1349,5.9),(1353,6.2),(1357,5.6),(1361,5.85),(1365,6.0),(1369,5.7),(1373,6.1),(1377,5.8),(1381,5.95),(1385,5.6),(1389,6.05),(1393,5.75),(1397,6.15),(1401,5.55),(1405,5.9),(1409,6.0),(1413,5.65),(1417,5.85),(1421,6.1),(1425,5.7),(1429,5.95),(1433,5.6),(1437,6.2),(1441,5.8),(1445,6.3),(1449,5.5),
(1452,5.35),(1456,5.2),(1460,5.4),(1465,5.1),(1470,5.3),(1475,5.5),(1480,5.25),(1485,5.45),(1490,5.3),(1494,5.6),(1498,5.4),(1502,6.05),(1467,6.4),(1478,5.9),(1488,6.1),(1492,5.0),(1446,4.6),(1450,4.4),(1455,4.1),(1458,3.7),(1462,3.2),(1465,2.8),(1468,1.8),(1471,1.5),(1474,1.3),(1476,0.9),(1478,0.4),(1480,0.2),(1482,-0.1),(1484,-0.3),(1486,-0.5),(1488,-0.8),(1490,-1.0),(1492,-0.9),(1470,-1.5),(1440,-0.45),(1444,0.1),(1448,-0.2),(1452,0.3),(1456,0.0),(1460,-0.3),(1464,-0.6),(1466,-1.0),(1443,-1.7),(1497,0.3),(1500,0.25),(1503,0.9),(1506,0.2),(1505,-0.3),(1475,3.5),(1479,4.0),(1482,3.6),(1485,2.7),(1488,2.3),(1495,4.2),(1473,1.1),(1445,2.0),(1440,2.7),(1444,3.1),
(1003,2.45),(1006,2.2),(1009,2.65),(1012,2.1),(1015,2.38),(1018,2.58),(1021,2.0),(1024,2.3),(1027,2.75),(1030,2.15),(1033,2.52),(1036,2.25),(1039,2.42),(1042,1.95),(1045,2.68),(1048,2.28),(1051,2.5),(1054,2.08),(1057,2.4),(1060,2.62),(1063,2.18),(1066,2.72),(1069,2.05),(1072,2.45),(1075,2.55),(1078,2.15),(1081,2.35),(1084,2.7),(1087,2.1),(1090,2.48),(1093,2.25),(1096,2.6),(1099,1.98),(1102,2.38),(1105,2.65),(1108,2.2),(1111,2.52),(1114,2.12),(1117,2.45),(1120,2.78),(1123,2.25),(1126,2.35),(1129,2.02),(1132,2.58),(1135,2.3),(1138,2.5),(1141,2.15),(1144,2.66),(1147,2.22),(1150,2.42),(1153,2.06),(1156,2.55),(1159,2.32),(1162,2.7),(1165,2.18),(1168,2.46),(1171,2.26),(1174,2.62),(1177,2.0),(1180,2.38),(1183,2.52),(1186,2.12),(1189,2.44),(1192,2.75),(1195,2.22),(1198,2.35),(1201,2.58),(1204,2.08),(1207,2.48),(1210,2.28),(1213,2.65),(1216,2.15),(1219,2.4),(1222,2.55),(1225,2.04),(1228,2.46),(1231,2.3),(1234,2.68),(1237,2.2),(1240,2.5),(1243,2.1),(1246,2.38),(1249,2.6),(1252,2.24),(1255,2.73),(1258,2.02),(1261,2.44),(1264,2.32),(1267,2.56),(1270,2.14),(1273,2.42),(1276,2.26),(1279,2.64),(1282,2.06),(1285,2.48),(1288,2.2),(1291,2.36),(1294,2.67),(1297,2.12),(1300,2.52),(1303,2.3),(1306,2.46),(1309,1.98),(1312,2.4),(1315,2.6),(1318,2.18),(1321,2.44),(1324,2.7),(1327,2.24),(1330,2.5),(1333,2.1),(1336,2.36),(1339,2.62),(1342,2.2),(1345,2.76),(1348,2.05),(1351,2.42),(1354,2.3),(1357,2.58),(1360,2.14),(1363,2.48),(1366,2.26),(1369,2.66),(1372,2.08),(1375,2.4),(1378,2.54),(1381,2.22),(1384,2.7),(1387,2.02),(1390,2.45),(1393,2.32),(1396,2.6),(1399,2.15),(1402,2.5),(1405,2.28),(1408,2.64),(1411,2.1),(1414,2.38),(1417,2.56),(1420,2.2),(1423,2.72),(1426,2.05),(1429,2.44),(1432,2.34),(1435,2.6),(1438,2.16),(1441,2.48),(1444,2.24),(1447,2.4),(1450,2.1),(1060,1.8),(1130,1.85),(1250,1.8),(1300,1.78),(1350,1.85),(1200,2.85),(1280,2.9),(1400,2.85),
(1004,4.8),(1008,4.6),(1006,5.2),(1010,0.8),(1012,0.35),(1025,3.8),(1077,3.85),(1077,3.25),(1193,3.85),(1248,3.85),(1248,3.25),(1120,2.95),(1270,2.9)]

right_1500_2000 = [(1503,3.3),(1506,3.45),(1509,3.25),(1512,3.38),(1515,3.5),(1518,3.22),(1521,3.4),(1524,3.32),(1527,3.55),(1530,3.28),(1533,3.42),(1536,3.2),(1539,3.36),(1542,3.48),(1545,3.26),(1548,3.4),(1551,3.3),(1554,3.52),(1557,3.24),(1560,3.38),(1563,3.45),(1566,3.28),(1569,3.35),(1572,3.2),(1575,3.42),(1580,3.36),(1585,3.28),(1590,3.3),(1593,3.48),(1596,3.25),(1599,3.4),(1602,3.32),(1605,3.5),(1608,3.22),(1611,3.38),(1614,3.44),(1617,3.27),(1620,3.36),(1623,3.3),(1626,3.46),(1629,3.24),(1635,3.3),(1640,3.42),(1645,3.4),(1648,3.32),(1651,3.5),(1654,3.26),(1657,3.42),(1660,3.2),(1663,3.36),(1666,3.48),(1669,3.28),(1672,3.4),(1675,3.33),(1678,3.55),(1681,3.25),(1684,3.38),(1687,3.45),(1690,3.22),(1693,3.35),(1696,3.42),(1699,3.28),(1702,3.5),(1705,3.3),(1708,3.4),(1711,3.24),(1714,3.36),(1717,3.47),(1720,3.27),(1723,3.38),(1726,3.32),(1729,3.52),(1732,3.25),(1735,3.41),(1738,3.3),(1741,3.45),(1744,3.22),(1747,3.37),(1750,3.48),(1753,3.28),(1756,3.4),(1759,3.33),(1762,3.5),(1765,3.26),(1768,3.42),(1771,3.3),(1774,3.55),(1777,3.35),(1780,3.45),(1783,3.62),(1786,3.28),(1789,3.4),(1792,3.7),(1795,3.3),(1800,3.35),(1805,3.28),(1810,3.4),(1816,3.3),(1819,3.45),(1822,3.24),(1825,3.38),(1828,3.5),(1831,3.28),(1834,3.4),(1837,3.32),(1840,3.52),(1843,3.25),(1846,3.42),(1849,3.3),(1852,3.46),(1855,3.22),(1858,3.36),(1861,3.48),(1864,3.28),(1867,3.4),(1870,3.33),(1873,3.5),(1876,3.26),(1879,3.42),(1882,3.3),(1885,3.45),(1888,3.24),(1891,3.38),(1894,3.5),(1897,3.28),(1900,3.4),(1903,3.34),(1906,3.52),(1909,3.26),(1912,3.42),(1915,3.3),(1918,3.46),(1921,3.22),(1924,3.37),(1927,3.48),(1930,3.28),(1933,3.4),(1936,3.33),(1939,3.5),(1942,3.26),(1945,3.42),(1948,3.3),(1951,3.45),(1954,3.24),(1957,3.38),(1960,3.55),(1963,3.3),(1966,3.68),(1969,3.4),
(1510,6.1),(1515,2.55),(1520,2.8),(1577,4.9),(1577,4.0),(1577,2.25),(1578,0.7),(1578,0.3),(1630,5.35),(1632,5.1),(1634,4.6),(1636,4.4),(1638,3.9),(1632,2.7),(1634,2.2),(1630,0.85),(1632,0.6),(1634,0.3),(1636,-0.4),(1638,-0.8),(1640,-1.55),(1645,0.6),(1646,2.8),(1795,4.85),(1798,5.0),(1800,5.1),(1796,3.7),(1797,2.85),(1798,2.2),(1800,2.05),(1798,0.7),(1800,0.35),(1802,0.6),(1803,-0.1),(1805,-0.5),(1806,-0.8),(1808,-0.9),(1970,5.8),(1974,6.3),(1978,6.55),(1980,5.7),(1984,6.0),(1986,5.4),(1988,4.6),(1990,4.2),(1992,2.7),(1994,2.4),(1972,2.5),(1976,2.2),(1982,1.3),(1984,0.9),(1986,0.7),(1988,0.85),(1980,0.0),(1978,0.1),(1996,2.85),(1998,-1.5),(1970,0.2)]

# ---------------- styling ----------------
FONT = "Liberation Sans"
RULE_COLOR = "#F4777F"


def collect(*groups):
    ts, ps = [], []
    for g in groups:
        for t, ph in g:
            ts.append(t)
            ps.append(ph)
    return ts, ps


def make_panel(rule_t0, rule_t1, rule_phi, groups, border_left, border_right):
    p = figure(frame_width=433, frame_height=310,
               x_range=Range1d(0, 2000), y_range=Range1d(-3, 9.52),
               output_backend="svg", toolbar_location=None,
               min_border_left=border_left, min_border_right=border_right,
               min_border_top=12, min_border_bottom=40)
    p.xgrid.visible = False
    p.ygrid.visible = False
    p.outline_line_color = "black"
    p.outline_line_width = 1
    p.outline_line_alpha = 1
    p.background_fill_color = "white"
    p.border_fill_color = "white"

    rule_src = ColumnDataSource(dict(x0=rule_t0, x1=rule_t1, y0=rule_phi, y1=rule_phi))
    rule_r = p.segment("x0", "y0", "x1", "y1", source=rule_src,
                       line_color=RULE_COLOR, line_width=3.4)

    ts, ps = collect(*groups)
    pts_src = ColumnDataSource(dict(t=ts, phi=ps))
    pts_r = p.scatter("t", "phi", source=pts_src, size=3.2, marker="circle",
                      fill_color="black", line_color="black", line_width=0.3)

    for ax in (p.xaxis[0], p.yaxis[0]):
        ax.axis_line_color = "black"
        ax.major_tick_line_color = "black"
        ax.minor_tick_line_color = "black"
        ax.major_tick_in = 0
        ax.major_tick_out = 6
        ax.minor_tick_in = 0
        ax.minor_tick_out = 3
        ax.major_label_text_font = FONT
        ax.major_label_text_font_size = "16px"
        ax.major_label_text_color = "black"
        ax.axis_label_text_font = FONT
        ax.axis_label_text_font_size = "20px"
        ax.axis_label_text_font_style = "normal"
        ax.axis_label_text_color = "black"
        ax.major_label_standoff = 5

    p.xaxis.ticker = FixedTicker(ticks=time_ticks, minor_ticks=time_minor)
    p.yaxis.ticker = FixedTicker(ticks=phi_ticks, minor_ticks=phi_minor)
    p.xaxis.axis_label = "t/T"
    p.yaxis.axis_label = "\u03c6 (rad)"
    p.xaxis.axis_label_standoff = 0
    p.yaxis.axis_label_standoff = 8

    legend = Legend(items=[LegendItem(label="Control Rule", renderers=[rule_r]),
                           LegendItem(label="System Response", renderers=[pts_r])],
                    location=(177, 258))
    legend.label_text_font = FONT
    legend.label_text_font_size = "17px"
    legend.label_text_color = "black"
    legend.border_line_color = "#444444"
    legend.border_line_width = 1
    legend.background_fill_color = "white"
    legend.background_fill_alpha = 1
    legend.glyph_width = 38
    legend.glyph_height = 13
    legend.label_height = 20
    legend.label_standoff = 6
    legend.spacing = 2
    legend.padding = 5
    legend.margin = 0
    p.add_layout(legend)
    return p


p_left = make_panel(left_rule_t0, left_rule_t1, left_rule_phi,
                    [left_0_500, left_500_1000, left_1000_1500, left_1500_2000], 62, 35)
p_right = make_panel(right_rule_t0, right_rule_t1, right_rule_phi,
                     [right_0_500, right_500_1000, right_1000_1500, right_1500_2000], 76, 25)

layout = row(p_left, p_right)
open("out.html", "w").write(file_html(layout, INLINE))
